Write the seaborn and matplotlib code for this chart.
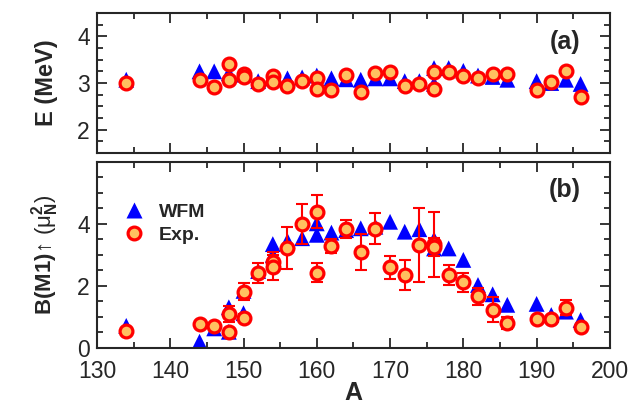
import numpy as np
import pandas as pd
import seaborn as sns
import matplotlib.pyplot as plt
from matplotlib.ticker import MultipleLocator, FixedLocator
from matplotlib.lines import Line2D

# (a) excitation energies
wfm_e_A = [134, 144, 146, 148, 150, 152, 154, 156, 158, 160, 162, 164, 166, 168,
           170, 172, 174, 176, 176, 178, 180, 182, 184, 186, 190, 192, 194, 196]
wfm_e = [3.07, 3.25, 3.25, 3.21, 3.18, 3.04, 3.10, 3.10, 3.12, 3.16, 3.10, 3.08, 3.07, 3.10,
         3.10, 3.04, 3.04, 3.32, 2.98, 3.32, 3.26, 3.16, 3.13, 3.07, 3.04, 3.00, 3.07, 2.98]

exp_e_A = [134, 144, 146, 148, 148, 150, 150, 152, 154, 154, 156, 158, 160, 160, 162, 164,
           166, 168, 170, 172, 174, 176, 176, 178, 180, 182, 184, 186, 190, 192, 194, 196]
exp_e = [3.00, 3.07, 2.91, 3.41, 3.07, 3.19, 3.12, 2.98, 3.14, 3.02, 2.94, 3.04, 3.11, 2.88,
         2.85, 3.18, 2.81, 3.22, 3.23, 2.94, 2.98, 3.23, 2.87, 3.23, 3.16, 3.10, 3.19, 3.20,
         2.84, 3.02, 3.26, 2.71]

# (b) B(M1) strengths
wfm_b_A = [134, 144, 146, 148, 148, 150, 150, 152, 154, 154, 156, 158, 160, 160, 162, 164,
           166, 168, 170, 172, 174, 176, 176, 178, 180, 182, 184, 186, 190, 192, 194, 196]
wfm_b = [0.71, 0.20, 0.63, 1.31, 0.52, 1.84, 1.12, 2.48, 3.35, 3.00, 3.45, 3.54, 4.02, 3.65,
         3.72, 3.80, 3.86, 3.91, 4.07, 3.75, 3.83, 3.50, 3.21, 3.21, 2.84, 2.03, 1.73, 1.39,
         1.42, 1.06, 1.17, 0.90]

exp_b_A = [134, 144, 146, 148, 148, 150, 150, 152, 154, 154, 156, 158, 160, 160, 162, 164,
           166, 168, 170, 172, 174, 176, 176, 178, 180, 182, 184, 186, 190, 192, 194, 196]
exp_b = [0.55, 0.76, 0.71, 1.10, 0.50, 1.82, 0.98, 2.41, 2.78, 2.60, 3.22, 3.99, 4.40, 2.43,
         3.29, 3.84, 3.11, 3.84, 2.60, 2.35, 3.32, 3.35, 3.25, 2.35, 2.12, 1.66, 1.23, 0.80,
         0.93, 0.93, 1.30, 0.67]
exp_b_err = [0.0, 0.05, 0.05, 0.25, 0.05, 0.26, 0.10, 0.33, 0.30, 0.40, 0.68, 0.65, 0.54, 0.30,
             0.22, 0.30, 0.58, 0.50, 0.38, 0.48, 1.20, 1.05, 0.30, 0.33, 0.30, 0.28, 0.40, 0.20,
             0.05, 0.08, 0.23, 0.10]

sns.set_style("ticks")
plt.rcParams['font.family'] = ['Liberation Sans', 'DejaVu Sans']
plt.rcParams['mathtext.fontset'] = 'custom'
plt.rcParams['mathtext.rm'] = 'Liberation Sans'
plt.rcParams['mathtext.bf'] = 'Liberation Sans:bold'
plt.rcParams['mathtext.it'] = 'Liberation Sans:italic'

fig = plt.figure(figsize=(6.42, 4.05), dpi=100)
ax1 = fig.add_axes([0.151, 0.622, 0.799, 0.346])
ax2 = fig.add_axes([0.151, 0.141, 0.799, 0.459])

blue = '#0000FF'
red = '#FF0000'
face = '#FFC060'

tri_kw = dict(marker='^', s=130, color=blue, edgecolor='none', zorder=2)
circ_kw = dict(marker='o', s=85, color=face, edgecolor=red, linewidth=2.3, zorder=4)

# panel (a)
sns.scatterplot(x=wfm_e_A, y=wfm_e, ax=ax1, **tri_kw)
sns.scatterplot(x=exp_e_A, y=exp_e, ax=ax1, **circ_kw)

# panel (b)
sns.scatterplot(x=wfm_b_A, y=wfm_b, ax=ax2, **tri_kw)
ax2.errorbar(exp_b_A, exp_b, yerr=exp_b_err, fmt='none', ecolor=red,
             elinewidth=1.5, capsize=4, capthick=1.5, zorder=3)
sns.scatterplot(x=exp_b_A, y=exp_b, ax=ax2, **circ_kw)

for ax in (ax1, ax2):
    ax.set_xlim(130, 200)
    ax.xaxis.set_major_locator(MultipleLocator(10))
    ax.xaxis.set_minor_locator(MultipleLocator(5))
    ax.tick_params(which='both', direction='in', top=True, right=True,
                   labelsize=16.5, width=1.3)
    ax.tick_params(which='major', length=7)
    ax.tick_params(which='minor', length=4)
    ax.tick_params(axis='x', pad=9)
    ax.tick_params(axis='y', pad=5)
    for sp in ax.spines.values():
        sp.set_linewidth(1.5)
    ax.grid(False)

ax1.set_ylim(1.5, 4.5)
ax1.yaxis.set_major_locator(FixedLocator([2, 3, 4]))
ax1.yaxis.set_minor_locator(MultipleLocator(0.25))
ax1.tick_params(axis='x', labelbottom=False)
ax1.set_ylabel('E (MeV)', fontsize=17, fontweight='bold', labelpad=14)
ax1.text(0.912, 0.79, '(a)', transform=ax1.transAxes, fontsize=18,
         fontweight='bold', ha='center', va='center')

ax2.set_ylim(0, 6)
ax2.yaxis.set_major_locator(FixedLocator([0, 2, 4]))
ax2.yaxis.set_minor_locator(MultipleLocator(0.5))
ax2.set_xlabel('A', fontsize=18, fontweight='bold', labelpad=-2)
ax2.set_ylabel(r'$\mathbf{B(M1)}\!\uparrow\,(\mathrm{μ}_{\mathbf{N}}^{\mathbf{2}})$',
               fontsize=16, labelpad=12)
ax2.text(0.912, 0.85, '(b)', transform=ax2.transAxes, fontsize=18,
         fontweight='bold', ha='center', va='center')

handles = [
    Line2D([], [], marker='^', linestyle='none', markersize=11.5,
           markerfacecolor=blue, markeredgecolor='none'),
    Line2D([], [], marker='o', linestyle='none', markersize=9.2,
           markerfacecolor=face, markeredgecolor=red, markeredgewidth=2.3),
]
ax2.legend(handles, ['WFM', 'Exp.'], loc='upper left', bbox_to_anchor=(0.0, 0.87),
           frameon=False, handletextpad=0.3, borderaxespad=0.5, labelspacing=0.25,
           prop={'size': 14, 'weight': 'bold'})

fig.savefig('out.png', dpi=100)
